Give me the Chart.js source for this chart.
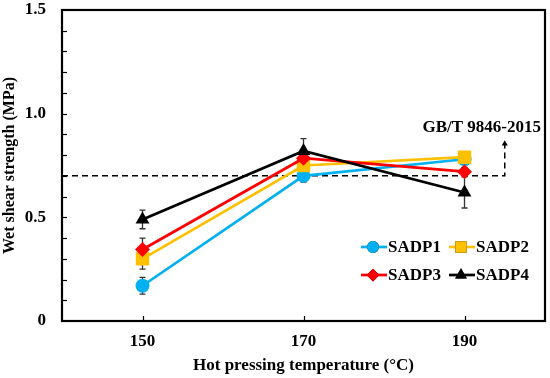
<!DOCTYPE html>
<html>
<head>
<meta charset="utf-8">
<script src="https://cdn.jsdelivr.net/npm/chart.js@4.4.1/dist/chart.umd.min.js"></script>
<style>
  html, body { margin: 0; padding: 0; background: #fff; }
  #wrap { width: 550px; height: 378px; position: relative; }
</style>
</head>
<body>
<div id="wrap"><canvas id="chart"></canvas></div>
<script>
const temperatures = [150, 170, 190];
const seriesNames = ["SADP1", "SADP2", "SADP3", "SADP4"];
const sadp1 = [0.17, 0.70, 0.78];
const sadp2 = [0.30, 0.75, 0.79];
const sadp3 = [0.345, 0.785, 0.72];
const sadp4 = [0.49, 0.82, 0.62];
const err1 = [0.04, 0.03, 0.02];
const err2 = [0.05, 0.03, 0.02];
const err3 = [0.055, 0.03, 0.02];
const err4 = [0.045, 0.06, 0.075];
const standardValue = 0.70;
const standardLabel = "GB/T 9846-2015";
const yMajorLabels = [0, 0.5, 1.0, 1.5];

const font = "'Liberation Serif', 'Times New Roman', serif";

const toPoints = (vals) => vals.map((v, i) => ({ x: temperatures[i], y: v }));

const makeSeries = (i, vals, errs, color, style, radius, order) => ({
  label: seriesNames[i],
  data: toPoints(vals),
  errors: errs,
  borderColor: color,
  backgroundColor: color,
  pointBackgroundColor: color,
  pointBorderColor: color,
  borderWidth: 2.7,
  pointStyle: style,
  pointRadius: radius,
  pointBorderWidth: 0,
  order: order,
});

// error bars, inner tick marks, frame, standard label and legend
const decor = {
  id: "decor",
  beforeDatasetsDraw(chart) {
    const { ctx, scales } = chart;
    ctx.save();
    ctx.strokeStyle = "#333";
    ctx.lineWidth = 1.3;
    chart.data.datasets.forEach((ds) => {
      if (!ds.errors) return;
      ds.data.forEach((p, i) => {
        const x = scales.x.getPixelForValue(p.x);
        const y1 = scales.y.getPixelForValue(p.y + ds.errors[i]);
        const y2 = scales.y.getPixelForValue(p.y - ds.errors[i]);
        ctx.beginPath();
        ctx.moveTo(x, y1); ctx.lineTo(x, y2);
        ctx.moveTo(x - 3, y1); ctx.lineTo(x + 3, y1);
        ctx.moveTo(x - 3, y2); ctx.lineTo(x + 3, y2);
        ctx.stroke();
      });
    });
    ctx.restore();
  },
  afterDraw(chart) {
    const { ctx, chartArea: a, scales } = chart;
    ctx.save();
    ctx.strokeStyle = "#000";
    ctx.lineWidth = 1.2;
    // y ticks every 0.1, inside
    for (let k = 1; k < 15; k++) {
      const y = Math.round(scales.y.getPixelForValue(k / 10)) + 0.5;
      ctx.beginPath(); ctx.moveTo(a.left, y); ctx.lineTo(a.left + 5, y); ctx.stroke();
    }
    temperatures.forEach((t) => {
      const x = Math.round(scales.x.getPixelForValue(t)) + 0.5;
      ctx.beginPath(); ctx.moveTo(x, a.bottom); ctx.lineTo(x, a.bottom - 5); ctx.stroke();
    });
    ctx.lineWidth = 2.2;
    ctx.strokeRect(a.left, a.top, a.right - a.left, a.bottom - a.top);

    // standard label
    ctx.fillStyle = "#000";
    ctx.font = "bold 17px " + font;
    ctx.textAlign = "right";
    ctx.textBaseline = "middle";
    ctx.fillText(standardLabel, a.right - 4, scales.y.getPixelForValue(0.935));

    // legend
    const entries = chart.data.datasets.filter((d) => d.errors);
    const cols = [361, 449];
    const rows = [247, 275];
    ctx.textAlign = "left";
    entries.forEach((ds, i) => {
      const x0 = cols[i % 2];
      const y0 = rows[Math.floor(i / 2)];
      ctx.strokeStyle = ds.borderColor;
      ctx.lineWidth = 2.7;
      ctx.beginPath(); ctx.moveTo(x0, y0); ctx.lineTo(x0 + 26, y0); ctx.stroke();
      Chart.helpers.drawPoint(ctx, {
        pointStyle: ds.pointStyle,
        radius: ds.pointRadius * 0.85,
        borderWidth: 0,
        rotation: 0,
      }, x0 + 12, y0);
      ctx.fillStyle = ds.borderColor;
      ctx.fill();
      ctx.fillStyle = "#000";
      ctx.fillText(ds.label, x0 + 27, y0 + 1);
    });
    ctx.restore();
  },
};

new Chart(document.getElementById("chart"), {
  type: "line",
  data: {
    datasets: [
      makeSeries(0, sadp1, err1, "#00B0F0", "circle", 7, 4),
      makeSeries(1, sadp2, err2, "#FFC000", "rect", 9.5, 3),
      makeSeries(2, sadp3, err3, "#FF0000", "rectRot", 7.5, 2),
      makeSeries(3, sadp4, err4, "#000000", "triangle", 8, 1),
      {
        label: "standard",
        data: [
          { x: 140, y: standardValue },
          { x: 195, y: standardValue },
          { x: 195, y: 0.855 },
        ],
        borderColor: "#000",
        backgroundColor: "#000",
        borderWidth: 1.5,
        borderDash: [6, 4],
        pointStyle: "triangle",
        pointRadius: [0, 0, 3.5],
        pointBorderWidth: 0,
        order: 5,
      },
    ],
  },
  options: {
    responsive: true,
    maintainAspectRatio: false,
    animation: false,
    layout: { autoPadding: false, padding: { top: 10, right: 5, left: 0, bottom: 0 } },
    plugins: { legend: { display: false }, tooltip: { enabled: false } },
    scales: {
      x: {
        type: "linear",
        min: 140,
        max: 200,
        afterBuildTicks: (s) => { s.ticks = temperatures.map((v) => ({ value: v })); },
        afterFit: (s) => { s.height = 57; s.paddingLeft = 0; s.paddingRight = 0; },
        grid: { display: false, drawTicks: false },
        border: { display: false },
        ticks: {
          padding: 10,
          color: "#000",
          font: { family: font, size: 17, weight: "bold" },
        },
        title: {
          display: true,
          text: "Hot pressing temperature (°C)",
          color: "#000",
          font: { family: font, size: 17, weight: "bold" },
          padding: { top: 0, bottom: 2 },
        },
      },
      y: {
        min: 0,
        max: 1.5,
        afterBuildTicks: (s) => { s.ticks = yMajorLabels.map((v) => ({ value: v })); },
        afterFit: (s) => { s.width = 62; s.paddingTop = 0; s.paddingBottom = 0; },
        grid: { display: false, drawTicks: false },
        border: { display: false },
        ticks: {
          padding: 16,
          color: "#000",
          font: { family: font, size: 17, weight: "bold" },
          callback: (v) => (v === 0 ? "0" : v.toFixed(1)),
        },
        title: {
          display: true,
          text: "Wet shear strength (MPa)",
          color: "#000",
          font: { family: font, size: 16, weight: "bold" },
          padding: { top: 0, bottom: 0 },
        },
      },
    },
  },
  plugins: [decor],
});
</script>
</body>
</html>
